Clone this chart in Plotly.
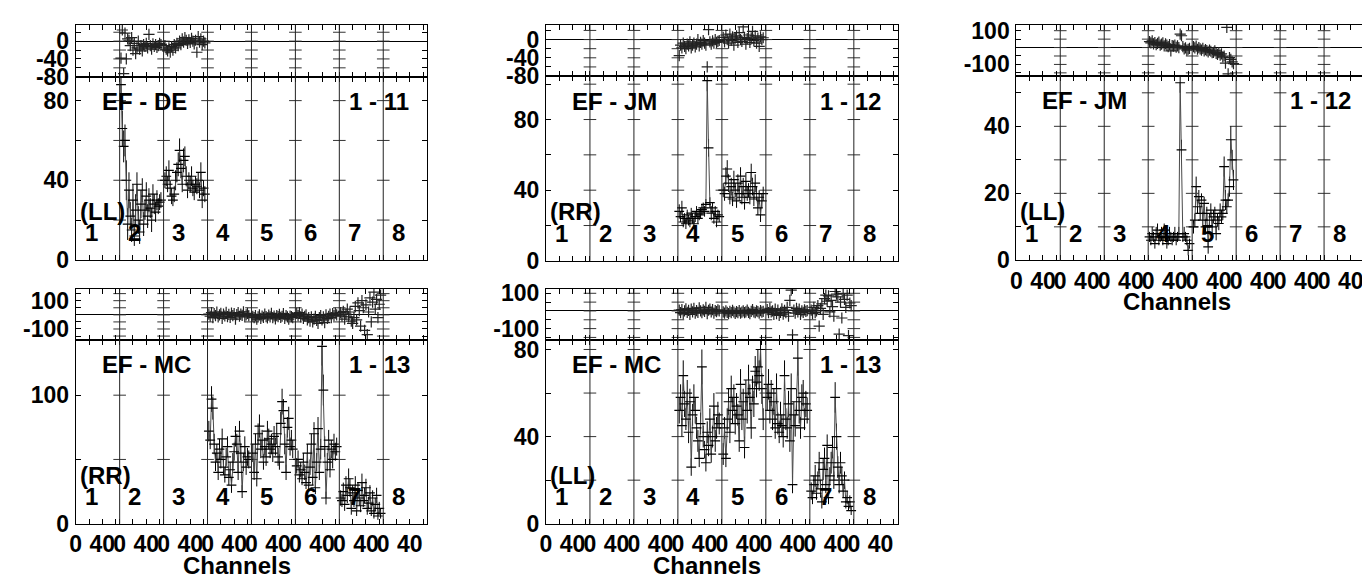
import plotly.graph_objects as go

# ---------------- data ----------------
NCH = 66                      # channel slots per IF on the axis
CH = list(range(2, 63, 2))    # sampled channels in each IF (31)
IF_NAMES = ["1", "2", "3", "4", "5", "6", "7", "8"]
XTICK_TEXT = ["0", "", "40", ""]
XTICK_CH = [0, 20, 40, 60]

# Panel A : EF - DE, 1 - 11, (LL)
A_IF2_AMP = [88, 66, 57, 60, 40, 18, 35, 22, 15, 30, 12, 25, 38, 20, 14, 28, 35, 18, 25, 32, 22, 30, 26, 20, 33, 28, 24, 30, 27, 29, 30]
A_IF2_ERR = [10, 9, 8, 8, 10, 8, 9, 7, 6, 8, 5, 8, 6, 7, 6, 7, 6, 6, 5, 7, 6, 6, 5, 6, 5, 5, 5, 5, 4, 4, 4]
A_IF2_PH = [-38, 25, -73, 18, -40, 5, 2, -10, 8, -20, -5, -28, -15, 0, -18, -10, -22, -8, -12, -5, -15, 15, -10, -18, -6, -12, -8, -14, -10, -5, -8]
A_IF3_AMP = [40, 42, 38, 45, 36, 32, 30, 33, 40, 44, 48, 55, 46, 38, 50, 52, 42, 35, 40, 38, 42, 36, 34, 38, 37, 40, 35, 44, 30, 36, 33]
A_IF3_ERR = [4, 5, 4, 5, 4, 4, 3, 4, 5, 5, 6, 6, 5, 4, 6, 5, 5, 4, 4, 4, 5, 4, 4, 4, 4, 4, 4, 5, 4, 4, 4]
A_IF3_PH = [-10, -18, -22, -15, -25, -12, -20, -8, -15, -5, -10, 0, -8, 5, -2, 8, 2, -5, 3, -3, 6, 0, -6, 2, -25, 10, -2, 5, -8, 0, -4]

# Panel B : EF - JM, 1 - 12, (RR)
B_IF4_AMP = [28, 25, 30, 22, 24, 21, 26, 23, 22, 27, 24, 21, 25, 28, 24, 26, 27, 29, 30, 28, 32, 102, 64, 33, 27, 30, 24, 28, 22, 26, 25]
B_IF4_ERR = [4, 3, 4, 3, 3, 3, 3, 3, 3, 3, 3, 3, 3, 3, 3, 3, 3, 3, 3, 3, 3, 6, 5, 3, 4, 3, 3, 3, 3, 3, 3]
B_IF4_PH = [-35, -12, -18, -8, -15, -20, -10, -14, -5, -18, -12, -8, -16, -10, 0, -14, -6, -10, -2, -8, -12, -60, 22, -5, -10, -3, -8, 0, -6, -4, -2]
B_IF5_AMP = [40, 38, 48, 52, 44, 36, 42, 35, 46, 40, 34, 44, 38, 48, 36, 42, 33, 45, 38, 40, 36, 50, 42, 35, 44, 38, 30, 36, 26, 34, 38]
B_IF5_ERR = [4, 4, 5, 5, 5, 4, 5, 4, 5, 4, 4, 5, 4, 5, 4, 5, 4, 5, 4, 4, 4, 5, 5, 4, 5, 4, 4, 4, 4, 4, 4]
B_IF5_PH = [5, -5, 10, 0, -8, 12, -2, 6, -12, 3, 8, -6, 15, 0, -4, 28, 5, -10, 2, 10, -6, 4, 18, -2, 8, -8, 3, -15, 6, 0, 4]

# Panel C : EF - JM, 1 - 12, (LL)
C_IF4_AMP = [7, 6, 8, 7, 5, 8, 9, 6, 7, 8, 6, 9, 7, 5, 6, 8, 7, 6, 7, 8, 6, 7, 8, 53, 33, 7, 8, 7, 6, 3, 5]
C_IF4_ERR = [1.5, 1.5, 2, 1.5, 1.5, 2, 2, 1.5, 1.5, 2, 1.5, 2, 1.5, 1.5, 1.5, 2, 1.5, 1.5, 1.5, 2, 1.5, 1.5, 2, 3, 3, 1.5, 2, 1.5, 1.5, 1.5, 1.5]
C_IF4_PH = [35, 28, 40, 22, 30, 18, 25, 32, 15, 20, 28, 10, 22, 15, 5, 18, -20, 12, 8, 14, 2, 10, 0, 80, 70, 5, -8, -2, -15, -10, -5]
C_IF5_AMP = [10, 12, 22, 16, 19, 14, 18, 12, 17, 10, 14, 4, 12, 15, 10, 13, 14, 8, 12, 11, 15, 13, 14, 28, 18, 16, 18, 22, 36, 30, 24]
C_IF5_ERR = [2, 2, 3, 2, 2, 2, 2, 2, 2, 2, 2, 2, 2, 2, 2, 2, 2, 2, 2, 2, 2, 2, 2, 3, 3, 2, 2, 3, 4, 3, 3]
C_IF5_PH = [5, -2, 8, -10, 0, -8, -15, -5, -20, -12, -18, -25, -15, -22, -30, -28, -20, -35, -40, -30, -45, -38, -55, -50, -92, 120, -156, -60, -70, -85, -95]

# Panel D : EF - MC, 1 - 13, (RR)
D_IF4_AMP = [72, 65, 97, 90, 62, 48, 55, 40, 58, 50, 66, 44, 38, 52, 60, 36, 42, 30, 48, 56, 68, 62, 40, 72, 55, 25, 48, 60, 44, 52, 50]
D_IF4_ERR = [8, 7, 10, 9, 8, 7, 7, 6, 8, 7, 8, 6, 6, 7, 8, 6, 6, 6, 7, 7, 8, 8, 6, 8, 7, 5, 7, 8, 6, 7, 7]
D_IF4_PH = [5, -10, 15, -20, 8, -5, 20, -15, 0, 10, -25, 5, -8, 18, -12, 3, -18, 12, -5, 8, -30, 2, 15, -10, 6, -4, 22, -15, 0, 10, -6]
D_IF5_AMP = [55, 40, 62, 35, 70, 76, 58, 65, 48, 60, 52, 72, 66, 58, 62, 55, 68, 60, 70, 52, 48, 78, 95, 88, 62, 40, 75, 82, 60, 65, 58]
D_IF5_ERR = [7, 6, 8, 6, 8, 9, 7, 8, 6, 7, 7, 8, 8, 7, 8, 7, 8, 7, 8, 7, 6, 9, 10, 9, 8, 6, 8, 9, 7, 8, 7]
D_IF5_PH = [-10, -20, -5, -30, -15, 0, -25, -8, -18, 5, -12, -22, -2, -15, 10, -20, -8, -28, -5, -12, 3, -18, -10, 8, -25, -5, -15, -30, -8, -12, -20]
D_IF6_AMP = [45, 50, 38, 42, 35, 48, 40, 32, 55, 30, 44, 62, 36, 70, 28, 48, 74, 40, 58, 138, 104, 60, 20, 48, 65, 42, 58, 50, 62, 56, 60]
D_IF6_ERR = [6, 7, 6, 6, 5, 7, 6, 5, 7, 5, 6, 8, 6, 9, 5, 7, 9, 6, 8, 15, 12, 8, 5, 7, 8, 6, 7, 7, 8, 7, 7]
D_IF6_PH = [10, -5, 15, -15, 5, -25, -10, 0, -35, -20, -45, -15, -50, -30, -10, -40, -60, -20, -5, -35, -15, -55, 0, -25, -10, 5, -20, 8, -5, 12, 0]
D_IF7_AMP = [20, 18, 25, 15, 30, 22, 35, 28, 12, 24, 18, 30, 10, 26, 20, 14, 32, 18, 22, 28, 12, 16, 24, 10, 20, 8, 15, 22, 6, 12, 8]
D_IF7_ERR = [6, 5, 7, 5, 7, 6, 8, 7, 5, 6, 5, 7, 4, 6, 6, 5, 7, 5, 6, 7, 5, 5, 6, 4, 6, 4, 5, 6, 3, 5, 4]
D_IF7_PH = [15, -10, 25, -30, 5, 40, -15, 20, -45, -60, -20, 60, -35, 85, 30, -80, 100, 50, -110, 70, -140, 20, 120, -50, 90, 160, 40, 110, -20, 75, 140]

# Panel E : EF - MC, 1 - 13, (LL)
E_IF4_AMP = [52, 58, 45, 68, 55, 48, 60, 42, 56, 26, 50, 58, 52, 44, 38, 30, 46, 72, 40, 34, 28, 42, 36, 48, 32, 40, 54, 38, 44, 50, 46]
E_IF4_ERR = [6, 6, 5, 7, 6, 5, 6, 5, 6, 4, 5, 6, 6, 5, 5, 4, 5, 8, 5, 4, 4, 5, 5, 5, 4, 5, 6, 5, 5, 6, 5]
E_IF4_PH = [5, -10, 8, -15, 0, 12, -8, 3, -20, 10, -5, 15, -12, 2, -8, 18, 0, -10, 6, -3, 20, -15, 4, 10, -6, 8, -12, 2, -4, 6, 0]
E_IF5_AMP = [32, 44, 30, 48, 56, 42, 62, 52, 58, 46, 54, 50, 38, 64, 48, 56, 35, 60, 52, 66, 58, 44, 62, 55, 70, 65, 72, 68, 80, 62, 48]
E_IF5_ERR = [5, 5, 4, 5, 6, 5, 6, 6, 6, 5, 6, 5, 5, 7, 5, 6, 5, 6, 6, 7, 6, 5, 6, 6, 7, 7, 8, 7, 8, 7, 5]
E_IF5_PH = [-5, -12, 0, -8, -15, -2, -10, 3, -6, -14, -4, -9, 2, -12, -7, 0, -10, -5, 5, -8, -15, -3, 8, -6, -10, 0, -4, -12, 2, -7, -3]
E_IF6_AMP = [58, 64, 52, 60, 48, 56, 44, 62, 46, 42, 50, 45, 40, 68, 48, 44, 55, 38, 62, 18, 50, 45, 56, 76, 52, 44, 58, 60, 48, 55, 52]
E_IF6_ERR = [6, 7, 6, 6, 5, 6, 5, 7, 5, 5, 6, 5, 5, 7, 5, 5, 6, 5, 7, 4, 6, 5, 6, 8, 6, 5, 6, 6, 5, 6, 6]
E_IF6_PH = [8, -10, 15, -5, 0, -20, 10, -15, 5, -25, -8, 12, -18, 3, -10, 20, -30, 60, 118, -135, 5, -12, 15, -5, 10, -20, 0, -8, 6, -3, 2]
E_IF7_AMP = [15, 12, 18, 22, 14, 20, 28, 16, 10, 25, 30, 18, 36, 12, 22, 28, 35, 20, 58, 40, 26, 18, 28, 22, 15, 20, 10, 12, 8, 10, 6]
E_IF7_ERR = [4, 3, 4, 5, 3, 4, 5, 4, 3, 5, 5, 4, 5, 3, 4, 5, 5, 4, 7, 6, 5, 4, 5, 4, 3, 4, 3, 3, 2, 3, 2]
E_IF7_PH = [5, -15, 20, -10, 0, 30, -86, 15, 40, -20, 70, 90, 55, 85, -5, 60, 25, -30, 110, 95, 80, -131, 50, -40, 100, 65, 20, 90, -140, 45, 30]

# ---------------- layout config ----------------
W, H = 1370, 583
FONT = "Liberation Sans, Arial, sans-serif"


def fx(p):
    return p / W


def fy(p):
    return 1 - p / H


def ticks(lo, hi, step, labelled):
    vals = []
    v = lo
    while v <= hi + 1e-9:
        vals.append(v)
        v += step
    return vals, [str(v) if v in labelled else "" for v in vals]


def ax(letter, n):
    return letter if n == 1 else f"{letter}{n}"


PANELS = [
    dict(base="EF - DE", stokes="1 - 11", pol="(LL)", xpx=(62, 415), phpx=(9, 63), ampx=(63, 253),
         ph_range=[-80, 37], ph_ticks=ticks(-80, 20, 20, [-80, -40, 0]),
         amp_range=[0, 92], amp_ticks=ticks(0, 80, 20, [0, 40, 80]), xlab=False,
         data={2: (A_IF2_AMP, A_IF2_ERR, A_IF2_PH), 3: (A_IF3_AMP, A_IF3_ERR, A_IF3_PH)}),
    dict(base="EF - JM", stokes="1 - 12", pol="(RR)", xpx=(534.3, 887.7), phpx=(9.3, 62.3), ampx=(62.3, 254),
         ph_range=[-80, 32], ph_ticks=ticks(-80, 20, 20, [-80, -40, 0]),
         amp_range=[0, 104.6], amp_ticks=ticks(0, 100, 20, [0, 40, 80]), xlab=False,
         data={4: (B_IF4_AMP, B_IF4_ERR, B_IF4_PH), 5: (B_IF5_AMP, B_IF5_ERR, B_IF5_PH)}),
    dict(base="EF - JM", stokes="1 - 12", pol="(LL)", xpx=(1006.7, 1360), phpx=(9.3, 62.3), ampx=(62.3, 253.5),
         ph_range=[-169, 134], ph_ticks=ticks(-150, 100, 50, [-100, 100]),
         amp_range=[0, 55], amp_ticks=ticks(0, 50, 10, [0, 20, 40]), xlab=True,
         data={4: (C_IF4_AMP, C_IF4_ERR, C_IF4_PH), 5: (C_IF5_AMP, C_IF5_ERR, C_IF5_PH)}),
    dict(base="EF - MC", stokes="1 - 13", pol="(RR)", xpx=(62, 415), phpx=(282.7, 336), ampx=(336, 526.7),
         ph_range=[-177, 186], ph_ticks=ticks(-150, 150, 50, [-100, 100]),
         amp_range=[0, 143], amp_ticks=ticks(0, 100, 50, [0, 100]), xlab=True,
         data={4: (D_IF4_AMP, D_IF4_ERR, D_IF4_PH), 5: (D_IF5_AMP, D_IF5_ERR, D_IF5_PH),
               6: (D_IF6_AMP, D_IF6_ERR, D_IF6_PH), 7: (D_IF7_AMP, D_IF7_ERR, D_IF7_PH)}),
    dict(base="EF - MC", stokes="1 - 13", pol="(LL)", xpx=(534.3, 887.7), phpx=(282.7, 336), ampx=(336, 526.7),
         ph_range=[-164, 127], ph_ticks=ticks(-150, 100, 50, [-100, 100]),
         amp_range=[0, 84.4], amp_ticks=ticks(0, 80, 20, [0, 40, 80]), xlab=True,
         data={4: (E_IF4_AMP, E_IF4_ERR, E_IF4_PH), 5: (E_IF5_AMP, E_IF5_ERR, E_IF5_PH),
               6: (E_IF6_AMP, E_IF6_ERR, E_IF6_PH), 7: (E_IF7_AMP, E_IF7_ERR, E_IF7_PH)}),
]

XMAX = NCH * len(IF_NAMES)
X_TICKVALS = [k * NCH + t for k in range(len(IF_NAMES)) for t in XTICK_CH]
X_TICKTEXT = XTICK_TEXT * len(IF_NAMES)
BOUNDS = [k * NCH for k in range(1, len(IF_NAMES))]

fig = go.Figure()
layout = dict(width=W, height=H, margin=dict(l=0, r=0, t=0, b=0),
              paper_bgcolor="white", plot_bgcolor="white", showlegend=False,
              font=dict(family=FONT, color="black"))
shapes = []
annotations = []

axis_common = dict(ticks="inside", ticklen=5, tickwidth=1, tickcolor="black",
                   showline=True, linecolor="black", linewidth=1, mirror="allticks",
                   showgrid=False,
                   tickfont=dict(family=FONT, size=23, color="black", weight="bold"))

for i, p in enumerate(PANELS):
    ip, ia = 2 * i + 1, 2 * i + 2
    xp, yp = ax("x", ip), ax("y", ip)
    xa, ya = ax("x", ia), ax("y", ia)
    xdom = [fx(p["xpx"][0]), fx(p["xpx"][1])]

    for n, ydom, rng, tk, is_ph in (
        (ip, [fy(p["phpx"][1]), fy(p["phpx"][0])], p["ph_range"], p["ph_ticks"], True),
        (ia, [fy(p["ampx"][1]), fy(p["ampx"][0])], p["amp_range"], p["amp_ticks"], False),
    ):
        xn, yn = ax("x", n), ax("y", n)
        show_x = (not is_ph) and p["xlab"]
        layout[ax("xaxis", n)] = dict(axis_common, domain=xdom, range=[0, XMAX], anchor=yn,
                                      tickmode="array", tickvals=X_TICKVALS, ticktext=X_TICKTEXT,
                                      showticklabels=show_x, tickangle=0, zeroline=False,
                                      ticklabelstandoff=0)
        layout[ax("yaxis", n)] = dict(axis_common, domain=ydom, range=rng, anchor=xn,
                                      tickmode="array", tickvals=tk[0], ticktext=tk[1],
                                      zeroline=is_ph, zerolinecolor="black", zerolinewidth=1,
                                      ticklabelstandoff=1)
        for b in BOUNDS:
            shapes.append(dict(type="line", xref=xn, yref=f"{yn} domain", x0=b, x1=b, y0=0, y1=1,
                               line=dict(color="#222222", width=1), layer="above"))
        inner = [v for v in tk[0] if rng[0] < v < rng[1]]
        bx = [b for b in BOUNDS for _ in inner]
        by = [v for _ in BOUNDS for v in inner]
        fig.add_trace(go.Scatter(x=bx, y=by, xaxis=xn, yaxis=yn, mode="markers",
                                 marker=dict(symbol="line-ew", size=9, line=dict(width=1, color="#333333")),
                                 hoverinfo="skip"))

    for ifn, (amp, err, ph) in p["data"].items():
        xs = [(ifn - 1) * NCH + c for c in CH]
        fig.add_trace(go.Scatter(x=xs, y=amp, xaxis=xa, yaxis=ya, mode="lines+markers",
                                 line=dict(color="#4a4a4a", width=1),
                                 marker=dict(symbol="line-ew", size=7, line=dict(width=1.2, color="black")),
                                 error_y=dict(type="data", array=err, visible=True, color="black",
                                              thickness=1, width=0)))
        fig.add_trace(go.Scatter(x=xs, y=ph, xaxis=xp, yaxis=yp, mode="markers",
                                 marker=dict(symbol="cross-thin", size=8, line=dict(width=1.2, color="#222222"))))

    afont = dict(family=FONT, size=24, color="black", weight="bold")
    annotations.append(dict(text=p["base"], xref=f"{xa} domain", yref=f"{ya} domain", x=0.068, y=0.865,
                            xanchor="left", yanchor="middle", showarrow=False, font=afont))
    annotations.append(dict(text=p["stokes"], xref=f"{xa} domain", yref=f"{ya} domain", x=0.773, y=0.865,
                            xanchor="left", yanchor="middle", showarrow=False, font=afont))
    annotations.append(dict(text=p["pol"], xref=f"{xa} domain", yref=f"{ya} domain", x=0.006, y=0.265,
                            xanchor="left", yanchor="middle", showarrow=False, font=afont))
    for k, name in enumerate(IF_NAMES):
        annotations.append(dict(text=name, xref=xa, yref=f"{ya} domain", x=k * NCH + 23, y=0.148,
                                xanchor="center", yanchor="middle", showarrow=False, font=afont))
    if p["xlab"]:
        cx = (p["xpx"][0] + p["xpx"][1]) / 2 - 15
        annotations.append(dict(text="Channels", xref="paper", yref="paper", x=fx(cx),
                                y=fy(p["ampx"][1] + 43), xanchor="center", yanchor="middle",
                                showarrow=False, font=afont))

layout["shapes"] = shapes
layout["annotations"] = annotations
fig.update_layout(**layout)
fig.write_html("out.html")
